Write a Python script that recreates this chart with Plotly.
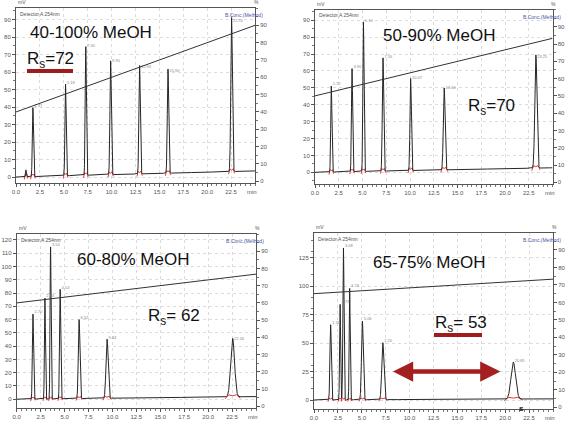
import numpy as np
import plotly.graph_objects as go

W, H = 580, 434

panel_titles = ["40-100% MeOH", "50-90% MeOH", "60-80% MeOH", "65-75% MeOH"]
rs_labels = ["R<sub>s</sub>=72", "R<sub>s</sub>=70", "R<sub>s</sub>= 62", "R<sub>s</sub>= 53"]

time_ticks = [0.0, 2.5, 5.0, 7.5, 10.0, 12.5, 15.0, 17.5, 20.0, 22.5]
pct_ticks = [0, 10, 20, 30, 40, 50, 60, 70, 80, 90]
mv_ticks = [
    [0, 10, 20, 30, 40, 50, 60, 70, 80, 90],
    [0, 10, 20, 30, 40, 50, 60, 70, 80, 90],
    [0, 10, 20, 30, 40, 50, 60, 70, 80, 90, 100, 110, 120],
    [0, 25, 50, 75, 100, 125],
]

# peak table per run: retention time (min), height (mV), sigma (min)
rt_1 = [1.04, 1.77, 5.18, 7.30, 9.90, 12.93, 15.90, 22.55]
h_1 = [4, 39.5, 52.5, 73.5, 65, 62, 59.5, 88]
w_1 = [0.04, 0.06, 0.06, 0.06, 0.07, 0.07, 0.07, 0.08]

rt_2 = [1.72, 3.90, 5.10, 7.16, 10.07, 13.60, 23.25]
h_2 = [51, 61, 88.5, 67, 54.5, 48.5, 67]
w_2 = [0.06, 0.06, 0.06, 0.07, 0.07, 0.09, 0.11]

rt_3 = [1.70, 2.95, 3.54, 4.54, 6.52, 9.44, 22.56]
h_3 = [64, 76, 114.5, 82.5, 59.5, 44.5, 44]
w_3 = [0.06, 0.05, 0.05, 0.06, 0.08, 0.11, 0.2]

rt_4 = [1.74, 2.73, 3.08, 3.73, 5.06, 7.20, 20.85]
h_4 = [66, 84, 133.5, 98, 69, 50, 32.5]
w_4 = [0.07, 0.05, 0.06, 0.05, 0.09, 0.11, 0.24]

peak_rt = [rt_1, rt_2, rt_3, rt_4]
peak_h = [h_1, h_2, h_3, h_4]
peak_w = [w_1, w_2, w_3, w_4]

# baseline drift (mV) at start / end of run
base_start = [0, 0, 0, 0]
base_end = [3.5, 2.7, 2.0, 1.0]

# solvent B (%) at start / end of the 25 min window
grad_start = [40, 50, 60, 65]
grad_end = [90, 83.3, 76.7, 73.3]

# panel frames in pixels: left, right, top, bottom
frames = [(16, 255, 8, 183), (315, 552.5, 9.5, 184), (16.7, 256, 234, 408), (314, 553, 232.5, 409)]
mv_ranges = [[-3.4, 96.6], [-6.9, 96.4], [-6.6, 124.5], [-7.9, 147]]


def px(x):
    return x / W


def py(y):
    return 1 - y / H


fig = go.Figure()
t = np.linspace(0, 25, 3001)
layout = {}
annotations = []
shapes = []
FONT = "Liberation Sans, Arial"
tick_font = dict(size=6, color="#555555", family=FONT)
grid = "#dcdcdc"

for i in range(4):
    l, r, top, bot = frames[i]
    xa = "x" if i == 0 else f"x{i + 1}"
    ya = f"y{2 * i + 1}" if i else "y"
    yb = f"y{2 * i + 2}"
    xkey = "xaxis" if i == 0 else f"xaxis{i + 1}"
    ykey = "yaxis" if i == 0 else f"yaxis{2 * i + 1}"
    ykey2 = f"yaxis{2 * i + 2}"

    sig = base_start[i] + (base_end[i] - base_start[i]) * t / 25
    for rt, h, w in zip(peak_rt[i], peak_h[i], peak_w[i]):
        sig = sig + h * np.exp(-0.5 * ((t - rt) / w) ** 2)

    # integration marks
    mx, my = [], []
    for rt, w in zip(peak_rt[i], peak_w[i]):
        b0 = base_start[i] + (base_end[i] - base_start[i]) * rt / 25
        mx += [rt - 4 * w, rt - 2 * w, rt, rt + 2 * w, rt + 4 * w, None]
        my += [b0 - 1.5, b0 + 1.5, b0 + 0.8, b0 + 1.5, b0 - 1, None]

    fig.add_trace(go.Scatter(x=mx, y=my, xaxis=xa, yaxis=ya, mode="lines",
                             line=dict(color="#e53a3a", width=1), hoverinfo="skip", showlegend=False))
    fig.add_trace(go.Scatter(x=t, y=sig, xaxis=xa, yaxis=ya, mode="lines",
                             line=dict(color="#262626", width=1), showlegend=False))
    fig.add_trace(go.Scatter(x=[0, 25], y=[grad_start[i], grad_end[i]], xaxis=xa, yaxis=yb, mode="lines",
                             line=dict(color="#333333", width=1), showlegend=False))
    # peak labels (retention times)
    lab = [(rt, h) for rt, h in zip(peak_rt[i], peak_h[i]) if h > 10]
    fig.add_trace(go.Scatter(x=[rt + 0.15 for rt, h in lab], y=[h for rt, h in lab],
                             xaxis=xa, yaxis=ya, mode="text",
                             text=[f"{rt:.2f}" for rt, h in lab],
                             textposition="top right",
                             textfont=dict(size=4, color="#888888", family=FONT),
                             showlegend=False, hoverinfo="skip"))

    layout[xkey] = dict(
        domain=[px(l), px(r)], anchor=ya, range=[0, 25], automargin=False,
        tickvals=time_ticks, ticktext=[f"{v:.1f}" for v in time_ticks], tickfont=tick_font,
        showgrid=True, gridcolor=grid, griddash="dot", gridwidth=1,
        showline=True, linecolor="#555555", linewidth=1, mirror=True,
        ticks="outside", ticklen=3, tickcolor="#555555",
        minor=dict(dtick=0.5, ticks="outside", ticklen=2, tickcolor="#777777", showgrid=False),
        zeroline=False,
    )
    layout[ykey] = dict(
        domain=[py(bot), py(top)], anchor=xa, range=mv_ranges[i], automargin=False,
        tickvals=mv_ticks[i], tickfont=tick_font,
        showgrid=True, gridcolor=grid, griddash="dot", gridwidth=1,
        showline=True, linecolor="#555555", linewidth=1,
        ticks="outside", ticklen=3, tickcolor="#555555",
        minor=dict(ticks="outside", ticklen=2, tickcolor="#777777", showgrid=False),
        zeroline=False,
    )
    layout[ykey2] = dict(
        domain=[py(bot), py(top)], anchor=xa, overlaying=ya, side="right", range=[-1, 100],
        automargin=False,
        tickvals=pct_ticks, tickfont=tick_font, showgrid=False,
        showline=True, linecolor="#555555", linewidth=1,
        ticks="outside", ticklen=3, tickcolor="#555555",
        minor=dict(ticks="outside", ticklen=2, tickcolor="#777777"),
        zeroline=False,
    )

    small = dict(size=5, color="#555555", family=FONT)
    pp = dict(xref="paper", yref="paper", showarrow=False)
    annotations += [
        dict(x=px(l), y=py(top - 1), text="mV", xanchor="left", yanchor="bottom", font=small, **pp),
        dict(x=px(r + 1), y=py(top - 1), text="%", xanchor="center", yanchor="bottom", font=small, **pp),
        dict(x=px(l + 2), y=py(top + 1), text="Detector A 254nm", xanchor="left", yanchor="top",
             font=small, **pp),
        dict(x=px(r + 10), y=py(top + 7), text="B.Conc.(Method)", xanchor="right", yanchor="middle",
             font=dict(size=5, color="#4a56a6", family=FONT), **pp),
        dict(x=px(r - 3), y=py(bot + 9), text="min", xanchor="center", yanchor="middle",
             font=tick_font, **pp),
    ]

big = dict(size=17, color="#111111", family=FONT)
title_pos = [(91, 32), (438.5, 35), (133, 259), (429, 262)]
rs_pos = [(50, 60), (491, 107), (174, 317), (461, 324)]
for i in range(4):
    annotations.append(dict(x=px(title_pos[i][0]), y=py(title_pos[i][1]), text=panel_titles[i],
                            xref="paper", yref="paper", showarrow=False,
                            xanchor="center", yanchor="middle", font=big))
    annotations.append(dict(x=px(rs_pos[i][0]), y=py(rs_pos[i][1]), text=rs_labels[i],
                            xref="paper", yref="paper", showarrow=False,
                            xanchor="center", yanchor="middle", font=big))

red = "#9e1c1c"
shapes.append(dict(type="rect", xref="paper", yref="paper", x0=px(27), x1=px(73), y0=py(73), y1=py(69),
                   fillcolor=red, line=dict(width=0)))
shapes.append(dict(type="rect", xref="paper", yref="paper", x0=px(434), x1=px(482), y0=py(337), y1=py(333),
                   fillcolor=red, line=dict(width=0)))

# double arrow spanning the gap between peak 6 and peak 7 (65-75% run)
arrow_t0, arrow_t1, arrow_y = 8.1, 19.5, 25
annotations.append(dict(x=arrow_t1, y=arrow_y, ax=arrow_t0, ay=arrow_y, xref="x4", yref="y7",
                        axref="x4", ayref="y7", text="", showarrow=True, arrowside="end+start",
                        arrowhead=2, arrowsize=0.9, arrowwidth=4.5, arrowcolor="#a41f1f"))
annotations.append(dict(x=px(526), y=py(415), xref="paper", yref="paper", text="<b>s</b>", showarrow=False,
                        font=dict(size=8, color="#111111", family=FONT)))

fig.update_layout(
    width=W, height=H,
    margin=dict(l=0, r=0, t=0, b=0),
    paper_bgcolor="white", plot_bgcolor="white",
    showlegend=False,
    annotations=annotations, shapes=shapes,
    **layout,
)

fig.write_html("out.html", config={"displayModeBar": False},
               post_script="document.body.style.margin='0';")
